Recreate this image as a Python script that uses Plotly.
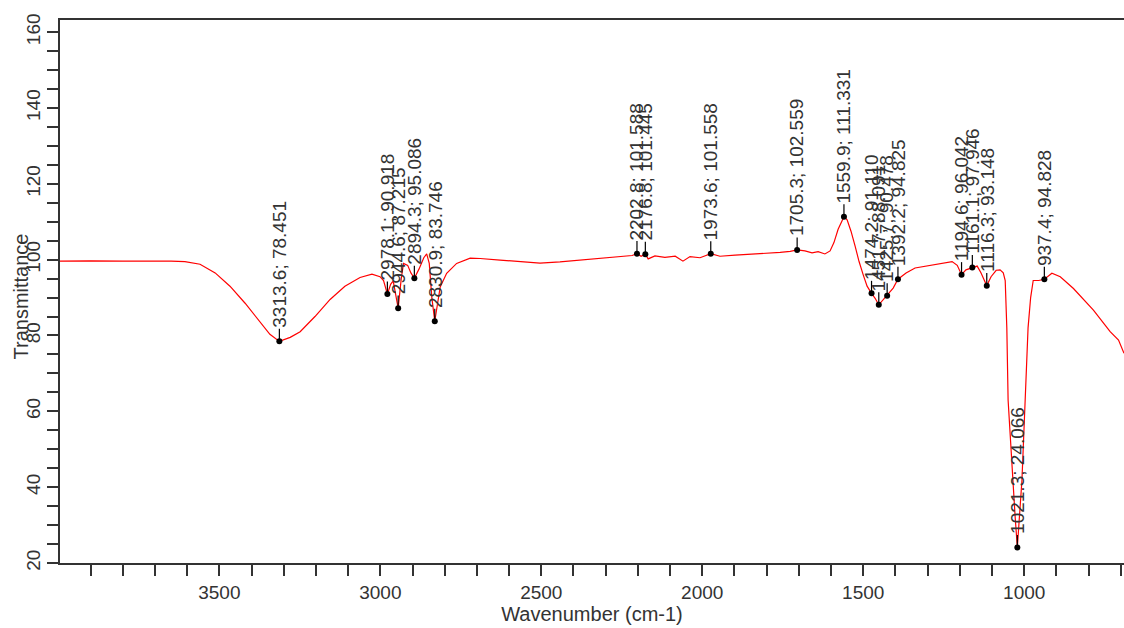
import plotly.graph_objects as go

# Spectrum (wavenumber cm-1, transmittance)
wavenumber = [3995, 3900, 3800, 3700, 3650, 3607, 3560, 3513, 3467, 3420, 3374, 3343,
              3313.6, 3280, 3249, 3203, 3156, 3110, 3063, 3026, 3001, 2990, 2978.1, 2968,
              2960, 2944.6, 2935, 2928, 2915, 2905, 2894.3, 2880, 2865, 2856, 2848, 2840,
              2830.9, 2820, 2814, 2794, 2763, 2721, 2690, 2628, 2566, 2504, 2442, 2380,
              2317, 2255, 2218, 2202.8, 2190, 2176.8, 2168, 2147, 2116, 2084, 2060, 2038,
              2007, 1973.6, 1945, 1898, 1852, 1805, 1758, 1727, 1705.3, 1681, 1659, 1640,
              1619, 1603, 1591, 1578, 1559.9, 1550, 1538, 1525, 1513, 1500, 1488, 1474.2,
              1463, 1451.7, 1438, 1425.7, 1407, 1392.2, 1367, 1339, 1292, 1246, 1224, 1208,
              1194.6, 1181, 1161.1, 1146, 1134, 1116.3, 1103, 1087, 1075, 1065, 1059, 1054,
              1050, 1042, 1035, 1028, 1021.3, 1015, 1007, 997, 988, 980, 972, 955, 937.4,
              914, 888, 847, 785, 733, 707, 690]
transmittance = [99.6, 99.7, 99.6, 99.7, 99.6, 99.5, 98.8, 96.5, 93.0, 88.5, 83.5, 80.3,
                 78.451, 79.5, 81.0, 85.0, 89.5, 93.0, 95.3, 96.2, 95.5, 94.5, 90.918, 93.5,
                 94.4, 87.215, 95.0, 99.0, 98.5, 96.5, 95.086, 97.5, 100.5, 101.5, 99.0, 90.0,
                 83.746, 89.0, 92.8, 96.4, 99.0, 100.4, 100.3, 99.9, 99.4, 99.1, 99.4, 99.9,
                 100.4, 100.8, 101.1, 101.588, 100.9, 101.445, 100.2, 101.0, 100.6, 100.9, 99.6, 100.8,
                 100.5, 101.558, 100.9, 101.2, 101.4, 101.6, 101.9, 102.2, 102.559, 102.3, 101.8, 102.1,
                 101.5, 102.3, 104.5, 108.0, 111.331, 110.5, 107.5, 103.5, 99.5, 96.0, 93.0, 91.110,
                 89.8, 88.091, 89.5, 90.478, 92.5, 94.825, 96.5, 97.8, 98.5, 99.3, 99.5, 98.5,
                 96.042, 97.3, 97.946, 98.3, 96.5, 93.148, 95.5, 97.2, 97.3, 96.5, 94.5, 82.0,
                 63.0, 50.0, 41.8, 32.0, 24.066, 32.0, 41.8, 63.0, 82.0, 90.0, 94.5, 94.5, 94.828,
                 96.4, 95.5, 92.4, 86.7, 81.0, 78.8, 75.3]

# Labelled peaks
peak_wn = [3313.6, 2978.1, 2944.6, 2894.3, 2830.9, 2202.8, 2176.8, 1973.6, 1705.3,
           1559.9, 1474.2, 1451.7, 1425.7, 1392.2, 1194.6, 1161.1, 1116.3, 1021.3, 937.4]
peak_t = [78.451, 90.918, 87.215, 95.086, 83.746, 101.588, 101.445, 101.558, 102.559,
          111.331, 91.110, 88.091, 90.478, 94.825, 96.042, 97.946, 93.148, 24.066, 94.828]

x_range = [3995, 690]
y_range = [20, 163.2]
LEADER = 3.3  # leader length in y units

FONT = "Liberation Sans, Arial, sans-serif"
TXT = "#333333"

fig = go.Figure()
fig.add_trace(go.Scatter(x=wavenumber, y=transmittance, mode="lines",
                         line=dict(color="#ff0000", width=1.2), hoverinfo="skip"))

# leader lines
lx, ly = [], []
for w, t in zip(peak_wn, peak_t):
    lx += [w, w, None]
    ly += [t, t + LEADER, None]
fig.add_trace(go.Scatter(x=lx, y=ly, mode="lines", line=dict(color="#000000", width=1.2),
                         hoverinfo="skip"))
fig.add_trace(go.Scatter(x=peak_wn, y=peak_t, mode="markers",
                         marker=dict(color="#000000", size=6), hoverinfo="skip"))

for w, t in zip(peak_wn, peak_t):
    fig.add_annotation(x=w, y=t + LEADER, xref="x", yref="y", text=f"{w:.1f}; {t:.3f}",
                       showarrow=False, textangle=-90, xanchor="center", yanchor="bottom",
                       yshift=0, font=dict(family=FONT, size=19, color=TXT), borderpad=0)

# y-axis title
fig.add_annotation(text="Transmittance", xref="paper", yref="paper", x=0, y=0.5,
                   xshift=-40, yshift=-5, showarrow=False, textangle=-90,
                   xanchor="center", yanchor="middle",
                   font=dict(family=FONT, size=20, color=TXT))

fig.update_layout(
    width=1124, height=628, showlegend=False,
    margin=dict(l=60, r=0, t=20, b=65),
    paper_bgcolor="white", plot_bgcolor="white",
    font=dict(family=FONT, size=19, color=TXT),
)
fig.update_xaxes(range=x_range, showgrid=False, zeroline=False,
                 showline=True, linecolor="#333333", linewidth=1.5, mirror=True,
                 ticks="outside", ticklen=11, tickwidth=1.5, tickcolor="#333333",
                 tick0=0, dtick=500,
                 minor=dict(ticks="outside", ticklen=11, tickwidth=1.5, tickcolor="#333333",
                            dtick=100, tick0=0, showgrid=False),
                 tickfont=dict(family=FONT, size=19, color=TXT),
                 title=dict(text="Wavenumber (cm-1)", font=dict(family=FONT, size=20, color=TXT),
                            standoff=4))
fig.update_yaxes(range=y_range, showgrid=False, zeroline=False,
                 showline=True, linecolor="#333333", linewidth=1.5, mirror=False,
                 ticks="outside", ticklen=11, tickwidth=1.5, tickcolor="#333333",
                 tick0=0, dtick=20, tickangle=-90,
                 minor=dict(ticks="outside", ticklen=11, tickwidth=1.5, tickcolor="#333333",
                            dtick=5, tick0=0, showgrid=False),
                 tickfont=dict(family=FONT, size=19, color=TXT))

fig.write_html("out.html", config={"displayModeBar": False},
               post_script="document.body.style.margin='0';document.body.style.overflow='hidden';")
